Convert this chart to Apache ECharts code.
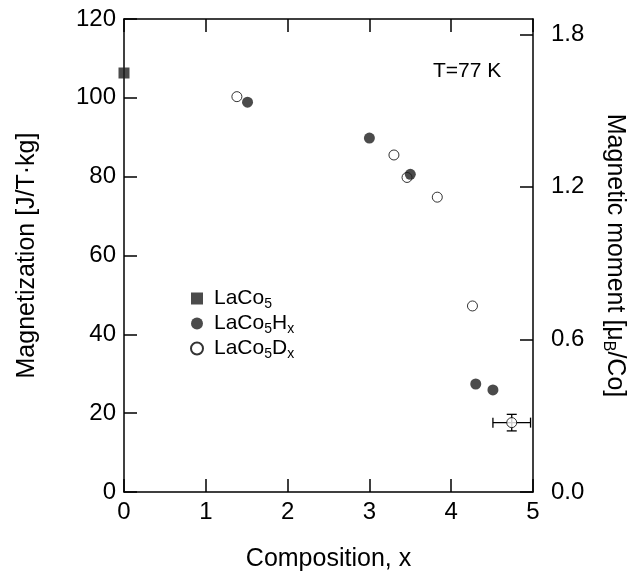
<!DOCTYPE html>
<html>
<head>
    <meta charset="utf-8">
    <title>LaCo5 magnetization</title>
    <script src="https://cdn.jsdelivr.net/npm/echarts@6/dist/echarts.min.js"></script>
    <style>
        html, body { margin: 0; padding: 0; background: #fff; }
    </style>
</head>
<body>
    <div id="chart" style="width:636px; height:579px"></div>

    <script>
        // composition x, magnetization [J/T kg]
        const lacoX = [0];
        const lacoY = [106.3];
        const hydX = [1.51, 3.0, 3.5, 4.3, 4.51];
        const hydY = [98.9, 89.8, 80.6, 27.4, 25.9];
        const deuX = [1.38, 3.3, 3.46, 3.83, 4.26, 4.74];
        const deuY = [100.3, 85.5, 79.8, 74.8, 47.2, 17.6];
        // error bar on the last deuteride point: x, y, +-dx, +-dy
        const errBar = [[4.74, 17.6, 0.23, 2.1]];

        const momentTicks = [0, 0.6, 1.2, 1.8];
        const legendText = {
            'LaCo5': '{n|LaCo}{s|5}',
            'LaCo5Hx': '{n|LaCo}{s|5}{n|H}{s|x}',
            'LaCo5Dx': '{n|LaCo}{s|5}{n|D}{s|x}'
        };

        const font = '"Liberation Sans", Arial, Helvetica, sans-serif';
        const black = '#000';

        let chart = echarts.init(document.getElementById('chart'));

        const subRich = {
            n: { fontSize: 21, fontFamily: font, color: black, lineHeight: 26 },
            s: { fontSize: 14, fontFamily: font, color: black, lineHeight: 12, verticalAlign: 'bottom' }
        };

        let option = {
            animation: false,
            grid: { left: 124, right: 103, top: 19, bottom: 87 },
            legend: {
                orient: 'vertical',
                left: 185,
                top: 283,
                itemWidth: 12,
                itemHeight: 12,
                itemGap: 1.5,
                data: [
                    { name: 'LaCo5', icon: 'rect' },
                    { name: 'LaCo5Hx', icon: 'circle' },
                    { name: 'LaCo5Dx', icon: 'circle' }
                ],
                formatter: function(name) { return legendText[name]; },
                textStyle: { rich: subRich, padding: [0, 0, 0, 6] }
            },
            graphic: [{
                type: 'text',
                left: 433,
                top: 61,
                style: { text: 'T=77 K', font: '21px ' + font, fill: black }
            }],
            xAxis: [
                {
                    type: 'value', min: 0, max: 5, interval: 1,
                    name: 'Composition, x', nameLocation: 'middle', nameGap: 55,
                    nameTextStyle: { fontSize: 25, fontFamily: font, color: black },
                    axisLine: { onZero: false, lineStyle: { color: black, width: 1.5 } },
                    axisTick: { inside: true, length: 13, lineStyle: { color: black, width: 1.5 } },
                    axisLabel: { fontSize: 24, fontFamily: font, color: black, margin: 8 },
                    splitLine: { show: false }
                },
                {
                    type: 'value', position: 'top', min: 0, max: 5, interval: 1,
                    axisLine: { onZero: false, lineStyle: { color: black, width: 1.5 } },
                    axisTick: { inside: true, length: 13, lineStyle: { color: black, width: 1.5 } },
                    axisLabel: { show: false },
                    splitLine: { show: false }
                }
            ],
            yAxis: [
                {
                    type: 'value', min: 0, max: 120, interval: 20,
                    name: 'Magnetization [J/T\u00b7kg]', nameLocation: 'middle', nameGap: 84,
                    nameTextStyle: { fontSize: 25, fontFamily: font, color: black },
                    axisLine: { onZero: false, lineStyle: { color: black, width: 1.5 } },
                    axisTick: { inside: true, length: 13, lineStyle: { color: black, width: 1.5 } },
                    axisLabel: { fontSize: 24, fontFamily: font, color: black, margin: 8 },
                    splitLine: { show: false }
                },
                {
                    type: 'value', position: 'right', min: 0, max: 1.86,
                    name: '{t|Magnetic moment [\u03bc}{b|B}{t|/Co]}',
                    nameLocation: 'middle', nameGap: 67, nameRotate: -90,
                    nameTextStyle: {
                        rich: {
                            t: { fontSize: 25, fontFamily: font, color: black, lineHeight: 30 },
                            b: { fontSize: 16, fontFamily: font, color: black, lineHeight: 14, verticalAlign: 'bottom' }
                        }
                    },
                    axisLine: { onZero: false, lineStyle: { color: black, width: 1.5 } },
                    axisTick: { inside: true, length: 13, customValues: momentTicks, lineStyle: { color: black, width: 1.5 } },
                    axisLabel: {
                        fontSize: 24, fontFamily: font, color: black, margin: 18,
                        customValues: momentTicks,
                        formatter: function(v) { return v.toFixed(1); }
                    },
                    splitLine: { show: false }
                }
            ],
            series: [
                {
                    name: 'LaCo5', type: 'scatter', symbol: 'rect', symbolSize: 11, clip: false,
                    itemStyle: { color: '#1e1e1e' },
                    data: lacoX.map((x, i) => [x, lacoY[i]])
                },
                {
                    name: 'err', type: 'custom', clip: false, z: 1,
                    renderItem: function(params, api) {
                        let x = api.value(0), y = api.value(1), dx = api.value(2), dy = api.value(3);
                        let l = api.coord([x - dx, y]), r = api.coord([x + dx, y]);
                        let t = api.coord([x, y + dy]), b = api.coord([x, y - dy]);
                        let c = 5;
                        let st = { stroke: black, lineWidth: 1.3 };
                        let seg = (x1, y1, x2, y2) => ({ type: 'line', shape: { x1, y1, x2, y2 }, style: st });
                        return {
                            type: 'group',
                            children: [
                                seg(l[0], l[1], r[0], r[1]),
                                seg(l[0], l[1] - c, l[0], l[1] + c),
                                seg(r[0], r[1] - c, r[0], r[1] + c),
                                seg(t[0], t[1], b[0], b[1]),
                                seg(t[0] - c, t[1], t[0] + c, t[1]),
                                seg(b[0] - c, b[1], b[0] + c, b[1])
                            ]
                        };
                    },
                    data: errBar
                },
                {
                    name: 'LaCo5Dx', type: 'scatter', symbol: 'circle', symbolSize: 10, clip: false, z: 3,
                    itemStyle: { color: '#fff', borderColor: black, borderWidth: 1 },
                    data: deuX.map((x, i) => [x, deuY[i]])
                },
                {
                    name: 'LaCo5Hx', type: 'scatter', symbol: 'circle', symbolSize: 11, clip: false, z: 4,
                    itemStyle: { color: '#1e1e1e' },
                    data: hydX.map((x, i) => [x, hydY[i]])
                }
            ]
        };

        chart.setOption(option);
    </script>
</body>
</html>
